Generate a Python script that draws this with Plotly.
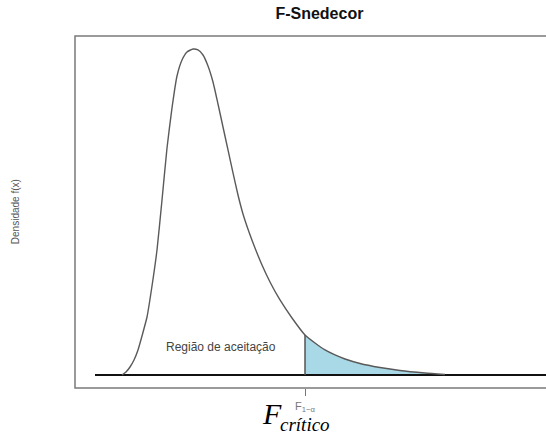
import numpy as np
import plotly.graph_objects as go

# Density curve of the F distribution (x, f(x)) read point by point
x_vals = [0.00, 0.08, 0.16, 0.24, 0.32, 0.40, 0.50, 0.60, 0.70, 0.80, 0.90,
          1.00, 1.10, 1.20, 1.30, 1.42, 1.52, 1.62, 1.72, 1.82, 1.92, 2.02,
          2.12, 2.22, 2.32, 2.42, 2.54, 2.66, 2.80, 2.96, 3.16, 3.40, 3.66,
          3.86, 4.06, 4.26, 4.46, 4.76, 5.16, 5.56, 6.06, 6.46]
f_vals = [0.0000, 0.0046, 0.0123, 0.0231, 0.0385, 0.0600, 0.0892, 0.1369,
          0.1923, 0.2692, 0.3492, 0.4108, 0.4600, 0.4846, 0.4969, 0.5015,
          0.5000, 0.4923, 0.4754, 0.4508, 0.4169, 0.3815, 0.3462, 0.3108,
          0.2769, 0.2477, 0.2200, 0.1954, 0.1692, 0.1431, 0.1154, 0.0877,
          0.0615, 0.0492, 0.0385, 0.0308, 0.0246, 0.0177, 0.0115, 0.0069,
          0.0031, 0.0008]

f_critico = 3.66      # critical value F(1-alpha)
shade_end = 6.06      # end of the shaded rejection tail
base_start = -0.54    # start of the horizontal base line

x = np.array(x_vals)
f = np.array(f_vals)
tail = (x >= f_critico) & (x <= shade_end)
f_at_crit = f[np.argmin(np.abs(x - f_critico))]

fig = go.Figure()

# shaded rejection region
fig.add_trace(go.Scatter(
    x=x[tail], y=f[tail], mode="lines", fill="tozeroy",
    fillcolor="#A9D9E6", line=dict(color="rgba(0,0,0,0)", width=0,
                                   shape="spline", smoothing=0.5),
    hoverinfo="skip", showlegend=False))

# base line
fig.add_trace(go.Scatter(
    x=[base_start, 20], y=[0, 0], mode="lines",
    line=dict(color="#111111", width=2), showlegend=False))

# density curve
fig.add_trace(go.Scatter(
    x=x, y=f, mode="lines",
    line=dict(color="#5a5a5a", width=1.4, shape="spline", smoothing=0.5),
    showlegend=False))

# critical value line
fig.add_trace(go.Scatter(
    x=[f_critico, f_critico], y=[0, f_at_crit], mode="lines",
    line=dict(color="#555555", width=1.5), showlegend=False))

# plot frame (continues beyond the right edge)
fig.add_shape(type="rect", xref="paper", yref="paper",
              x0=0, x1=1.2, y0=0, y1=1,
              line=dict(color="#7a7a7a", width=1.5))

fig.add_annotation(x=1.98, y=0.043, text="Região de aceitação",
                   showarrow=False, font=dict(family="Liberation Sans",
                                              size=12, color="#444444"))

fig.add_annotation(xref="paper", yref="paper", x=-0.127, y=0.5,
                   xanchor="center", yanchor="middle",
                   text="Densidade f(x)", textangle=-90, showarrow=False,
                   font=dict(family="Liberation Sans Narrow, Liberation Sans",
                             size=10, color="#555555"))

# labels under the critical value
fig.add_annotation(x=f_critico, xref="x", yref="paper", y=-0.055,
                   xanchor="center", yanchor="middle",
                   text="F<sub>1−α</sub>", showarrow=False,
                   font=dict(family="Liberation Sans", size=11, color="#777777"))
fig.add_annotation(x=f_critico - 0.67, xref="x", yref="paper", y=-0.073,
                   xanchor="center", yanchor="middle",
                   text="<i>F</i>", showarrow=False,
                   font=dict(family="Liberation Serif", size=30, color="#000000"))
fig.add_annotation(x=f_critico, xref="x", yref="paper", y=-0.104,
                   xanchor="center", yanchor="middle", borderpad=0,
                   text="<i>crítico</i>", showarrow=False,
                   font=dict(family="Liberation Serif", size=19, color="#000000"))

fig.update_layout(
    width=546, height=435,
    margin=dict(l=75, r=0, t=36, b=47),
    paper_bgcolor="white", plot_bgcolor="white",
    title=dict(text="<b>F-Snedecor</b>", x=0.585, y=0.97, xanchor="center",
               yanchor="middle",
               font=dict(family="Liberation Sans", size=16, color="#111111")),
    xaxis=dict(range=[-0.94, 8.48], showgrid=False, zeroline=False,
               showline=False, tickmode="array", tickvals=[f_critico],
               ticks="outside", ticklen=7, tickcolor="#777777",
               showticklabels=False),
    yaxis=dict(range=[-0.02, 0.5215], showgrid=False, zeroline=False,
               showline=False, showticklabels=False, ticks=""),
)

fig.write_html("out.html")
